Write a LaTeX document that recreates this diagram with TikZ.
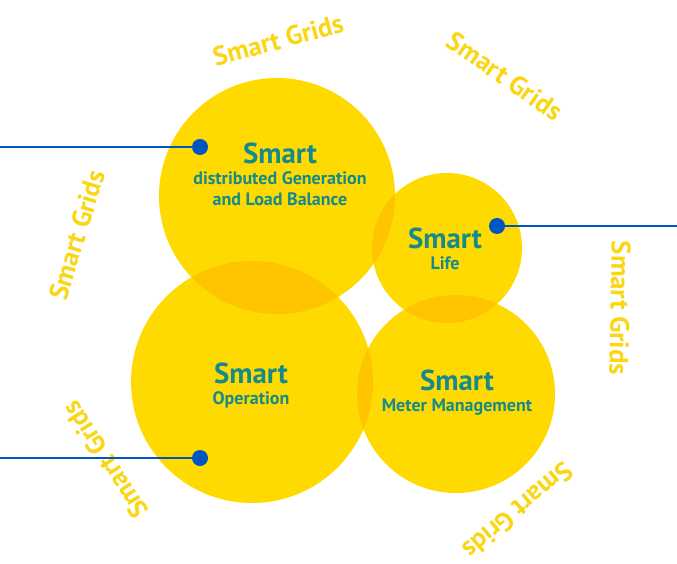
\documentclass[tikz,border=0pt]{standalone}
\usepackage{fontspec}
\setmainfont{PT Sans}
\usetikzlibrary{positioning}
\definecolor{sunyellow}{RGB}{255,218,0}
\definecolor{sunoverlap}{RGB}{255,196,0}
\definecolor{gridyellow}{RGB}{250,214,20}
\definecolor{tealtext}{RGB}{20,138,140}
\definecolor{pinblue}{RGB}{0,86,190}
\begin{document}
\begin{tikzpicture}[x=0.025cm,y=-0.025cm,
    bubble/.style={fill=sunyellow},
    head/.style={text=tealtext,font=\bfseries\fontsize{20.5}{20.5}\selectfont},
    sub/.style={text=tealtext,font=\bfseries\fontsize{12.8}{15}\selectfont,align=center},
    grid/.style={text=gridyellow,font=\bfseries\fontsize{19}{19}\selectfont},
    pin/.style={circle,fill=pinblue,inner sep=0pt,minimum size=0.4cm},
    lead/.style={draw=pinblue,line width=1.9pt}]
        \useasboundingbox (0,0) rectangle (677,564);

        % circles
        \coordinate (gen) at (277,196);
        \coordinate (life) at (447,248);
        \coordinate (oper) at (252,382);
        \coordinate (meter) at (456,394);
        \fill[bubble] (gen) circle[radius=118];
        \fill[bubble] (life) circle[radius=75];
        \fill[bubble] (oper) circle[radius=121];
        \fill[bubble] (meter) circle[radius=99];

        % overlaps
        \begin{scope}
            \clip (gen) circle[radius=118];
            \fill[sunoverlap] (oper) circle[radius=121];
            \fill[sunoverlap] (life) circle[radius=75];
        \end{scope}
        \begin{scope}
            \clip (meter) circle[radius=99];
            \fill[sunoverlap] (oper) circle[radius=121];
            \fill[sunoverlap] (life) circle[radius=75];
        \end{scope}

        % labels
        \node at (280,153) [head] (gen_head) {Smart};
        \node [sub, below=-1pt of gen_head] (gen_sub) {distributed Generation\\and Load Balance};
        \node at (445,238) [head] (life_head) {Smart};
        \node [sub, below=-1pt of life_head] (life_sub) {Life};
        \node at (251,373) [head] (oper_head) {Smart};
        \node [sub, below=-1pt of oper_head] (oper_sub) {Operation};
        \node at (457,380) [head] (meter_head) {Smart};
        \node [sub, below=-1pt of meter_head] (meter_sub) {Meter Management};

        % ring text
        \node at (278,40) [grid, rotate=15] (grid_top) {Smart Grids};
        \node at (505,76) [grid, rotate=-35] (grid_topright) {Smart Grids};
        \node at (620,308) [grid, rotate=-91] (grid_right) {Smart Grids};
        \node at (518,511) [grid, rotate=-140] (grid_botright) {Smart Grids};
        \node at (105,460) [grid, rotate=123] (grid_botleft) {Smart Grids};
        \node at (77,235) [grid, rotate=73] (grid_left) {Smart Grids};

        % pins
        \node at (200,147) [pin] (pin_gen) {};
        \node at (497,226) [pin] (pin_life) {};
        \node at (200,458) [pin] (pin_oper) {};
        \coordinate (end_gen) at (0,147);
        \coordinate (end_life) at (677,226);
        \coordinate (end_oper) at (0,458);

        \draw[lead] (end_gen) -- (pin_gen);
        \draw[lead] (pin_life) -- (end_life);
        \draw[lead] (end_oper) -- (pin_oper);
\end{tikzpicture}
\end{document}
